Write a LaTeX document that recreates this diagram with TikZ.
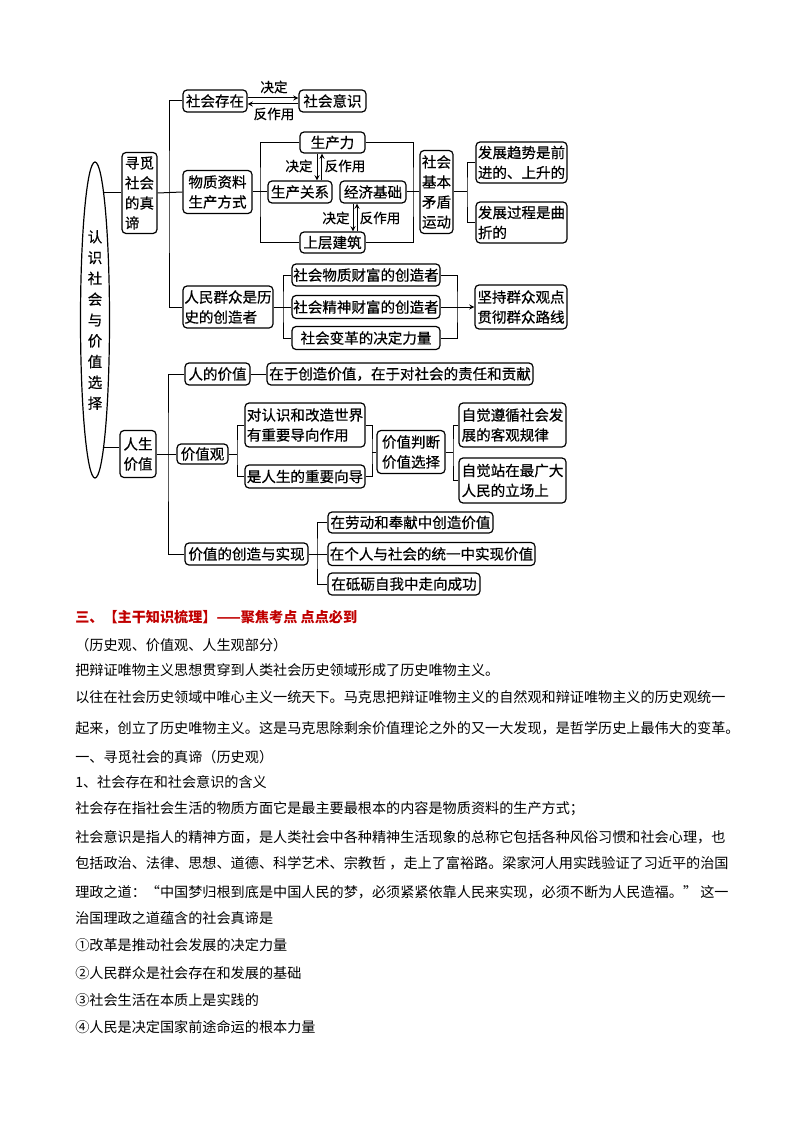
\documentclass[tikz,border=0pt]{standalone}
\usepackage{fontspec}
\usepackage{xcolor}
\setmainfont{Noto Sans CJK SC}
\newfontfamily\dgcjk{Noto Sans CJK SC}[FakeBold=0.5]
\usetikzlibrary{shapes.geometric,arrows,positioning,calc}
\definecolor{headred}{RGB}{192,0,0}
\newcommand{\dgfont}{\dgcjk\fontsize{10.9pt}{15pt}\selectfont}
\newcommand{\lbfont}{\dgcjk\fontsize{10.2pt}{12pt}\selectfont}
\newcommand{\bodyfont}{\fontsize{10.6pt}{13pt}\selectfont}

\begin{document}
\begin{tikzpicture}[
    x=0.75pt, y=-0.75pt,
    box/.style={
        draw, rounded corners=3pt, line width=0.9pt,
        inner sep=1pt, align=left, font=\dgfont
    },
    sz/.style 2 args={minimum width=#1*0.75pt, minimum height=#2*0.75pt},
    ellbox/.style={
        ellipse, draw, line width=0.9pt, inner sep=0pt,
        align=center, font=\dgcjk\fontsize{10.9pt}{15.6pt}\selectfont
    },
    lbl/.style={font=\lbfont, inner sep=0pt},
    line/.style={line width=0.75pt},
    arrow/.style={->, >=stealth, line width=0.75pt},
    txt/.style={anchor=west, inner sep=0pt, font=\bodyfont}
]
\useasboundingbox (0,0) rectangle (794,1123);

% Root
\node[ellbox, sz={29}{316}] (ell) at (95,320) {认\\识\\社\\会\\与\\价\\值\\选\\择};

% Upper branch: history
\node[box, sz={35}{81}] (xm) at (139.5,193) {寻觅\\社会\\的真\\谛};
\node[box, sz={64}{22}] (scz) at (215,101) {社会存在};
\node[box, sz={67}{22}] (shyz) at (332.5,101) {社会意识};
\node[box, sz={69}{43}] (wzzl) at (217.5,192) {物质资料\\生产方式};
\node[box, sz={65}{21}] (scl) at (332.5,142.5) {生产力};
\node[box, sz={64}{22}] (scgx) at (300,192) {生产关系};
\node[box, sz={66}{22}] (jjjc) at (373,192) {经济基础};
\node[box, sz={65}{21}] (scjz) at (332.5,242.5) {上层建筑};
\node[box, sz={33}{83}] (jbmd) at (436.5,192) {社会\\基本\\矛盾\\运动};
\node[box, sz={91}{41}] (qs) at (521.5,162.5) {发展趋势是前\\进的、上升的};
\node[box, sz={91}{41}] (gc) at (521.5,222.5) {发展过程是曲\\折的};
\node[box, sz={90}{42}] (rmqz) at (228,307) {人民群众是历\\史的创造者};
\node[box, sz={148}{22}] (wzcf) at (366,275) {社会物质财富的创造者};
\node[box, sz={148}{23}] (jscf) at (366,307) {社会精神财富的创造者};
\node[box, sz={148}{23}] (bg) at (366,338) {社会变革的决定力量};
\node[box, sz={92}{44}] (jc) at (521,307) {坚持群众观点\\贯彻群众路线};

% Labels on the arrows
\node[lbl] (jd1) at (274,87) {决定};
\node[lbl] (fz1) at (274,114) {反作用};
\node[lbl] (jd2) at (299,166) {决定};
\node[lbl] (fz2) at (345,166) {反作用};
\node[lbl] (jd3) at (336,218) {决定};
\node[lbl] (fz3) at (380,218) {反作用};

% Lower branch: life value
\node[box, sz={36}{47}] (rsjz) at (138,454) {人生\\价值};
\node[box, sz={65}{22}] (rdjz) at (217.5,374) {人的价值};
\node[box, sz={266}{22}] (zy) at (400,374) {在于创造价值，在于对社会的责任和贡献};
\node[box, sz={51}{20}] (jzg) at (202.5,454) {价值观};
\node[box, sz={120}{44}] (dr) at (305,425) {对认识和改造世界\\有重要导向作用};
\node[box, sz={120}{23}] (rsxd) at (305,476.5) {是人生的重要向导};
\node[box, sz={68}{43}] (pd) at (411,452) {价值判断\\价值选择};
\node[box, sz={107}{44}] (zjzx) at (512.5,425) {自觉遵循社会发\\展的客观规律};
\node[box, sz={107}{45}] (zjzz) at (512.5,480.5) {自觉站在最广大\\人民的立场上};
\node[box, sz={123}{22}] (cz) at (246.5,554) {价值的创造与实现};
\node[box, sz={165}{21}] (ld) at (410.5,522.5) {在劳动和奉献中创造价值};
\node[box, sz={207}{23}] (gr) at (431.5,554) {在个人与社会的统一中实现价值};
\node[box, sz={152}{22}] (dl) at (404,584) {在砥砺自我中走向成功};

% Branch points
\coordinate (tr1) at (169,200);
\coordinate (tr2) at (168,450);
\coordinate (b1) at (260,192);
\coordinate (b2) at (413,192);
\coordinate (b3) at (467,192);
\coordinate (b4) at (283,307);
\coordinate (b5) at (457,307);
\coordinate (b6) at (237,454);
\coordinate (b7) at (372,452);
\coordinate (b8) at (453,452);
\coordinate (b9) at (317,554);

% Connectors - upper branch
\draw[line] (ell.86) -- (ell.86 -| xm.west);
\draw[line] (scz.west) -| (tr1) |- (rmqz.west);
\draw[line] (xm.east) -- (wzzl.west);
\draw[arrow] ([yshift=2.25pt]scz.east) -- ([yshift=2.25pt]shyz.west);
\draw[arrow] ([yshift=-2.25pt]shyz.west) -- ([yshift=-2.25pt]scz.east);
\draw[line] (wzzl.east) -- (b1);
\draw[line] (scl.west) -| (b1) |- (scjz.west);
\draw[line] (scgx.west) -- (b1);
\draw[arrow] ([xshift=-11.6pt]scl.south) -- ([xshift=-11.6pt]scl.south |- scgx.north);
\draw[arrow] ([xshift=-7.9pt]scl.south |- scgx.north) -- ([xshift=-7.9pt]scl.south);
\draw[arrow] ([xshift=-15pt]jjjc.south) -- ([xshift=-15pt]jjjc.south |- scjz.north);
\draw[arrow] ([xshift=-12pt]jjjc.south |- scjz.north) -- ([xshift=-12pt]jjjc.south);
\draw[line] (scl.east) -| (b2) |- (scjz.east);
\draw[line] (jjjc.east) -- (jbmd.west);
\draw[line] (jbmd.east) -- (b3);
\draw[line] (qs.west) -| (b3) |- (gc.west);
\draw[line] (rmqz.east) -- (jscf.west);
\draw[line] (wzcf.west) -| (b4) |- (bg.west);
\draw[line] (wzcf.east) -| (b5) |- (bg.east);
\draw[arrow] (jscf.east) -- (jc.west);

% Connectors - lower branch
\draw[line] (ell.-86.7) -- (ell.-86.7 -| rsjz.west);
\draw[line] (rdjz.west) -| (tr2) |- (cz.west);
\draw[line] (rsjz.east) -- (jzg.west);
\draw[line] (rdjz.east) -- (zy.west);
\draw[line] (jzg.east) -- (b6);
\draw[line] (dr.west) -| (b6) |- (rsxd.west);
\draw[line] (dr.east) -| (b7) |- (rsxd.east);
\draw[line] (b7) -- (pd.west);
\draw[line] (pd.east) -- (b8);
\draw[line] (zjzx.west) -| (b8) |- (zjzz.west);
\draw[line] (cz.east) -- (gr.west);
\draw[line] (ld.west) -| (b9) |- (dl.west);

% Notes below the diagram
\node[txt, text=headred, font=\bodyfont\bfseries] (t1) at (75,617) {三、【主干知识梳理】——聚焦考点 点点必到};
\node[txt] (t2) at (75,645) {（历史观、价值观、人生观部分）};
\node[txt] (t3) at (75,670) {把辩证唯物主义思想贯穿到人类社会历史领域形成了历史唯物主义。};
\node[txt] (t4) at (75,697) {以往在社会历史领域中唯心主义一统天下。马克思把辩证唯物主义的自然观和辩证唯物主义的历史观统一};
\node[txt] (t5) at (75,728) {起来，创立了历史唯物主义。这是马克思除剩余价值理论之外的又一大发现，是哲学历史上最伟大的变革。};
\node[txt] (t6) at (75,757) {一、寻觅社会的真谛（历史观）};
\node[txt] (t7) at (75,782) {1、社会存在和社会意识的含义};
\node[txt] (t8) at (75,809) {社会存在指社会生活的物质方面它是最主要最根本的内容是物质资料的生产方式；};
\node[txt] (t9) at (75,837) {社会意识是指人的精神方面，是人类社会中各种精神生活现象的总称它包括各种风俗习惯和社会心理，也};
\node[txt] (t10) at (75,863) {包括政治、法律、思想、道德、科学艺术、宗教哲 ，走上了富裕路。梁家河人用实践验证了习近平的治国};
\node[txt] (t11) at (75,892) {理政之道：“中国梦归根到底是中国人民的梦，必须紧紧依靠人民来实现，必须不断为人民造福。” 这一};
\node[txt] (t12) at (75,918) {治国理政之道蕴含的社会真谛是};
\node[txt] (t13) at (75,945) {①改革是推动社会发展的决定力量};
\node[txt] (t14) at (75,973) {②人民群众是社会存在和发展的基础};
\node[txt] (t15) at (75,1000) {③社会生活在本质上是实践的};
\node[txt] (t16) at (75,1027) {④人民是决定国家前途命运的根本力量};

\end{tikzpicture}
\end{document}
